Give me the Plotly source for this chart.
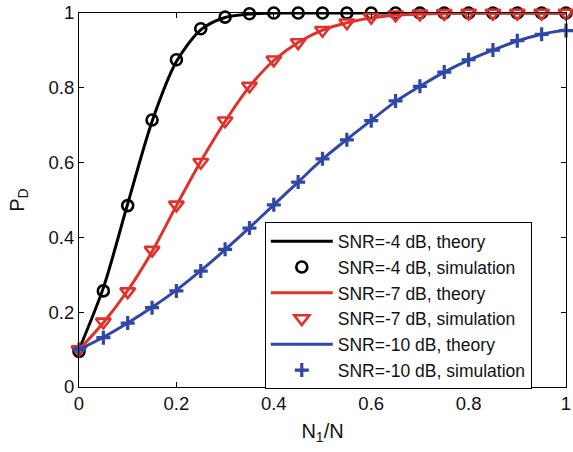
import plotly.graph_objects as go

# Fraction of samples N1/N
n_ratio = [0.0, 0.05, 0.1, 0.15, 0.2, 0.25, 0.3, 0.35, 0.4, 0.45, 0.5,
           0.55, 0.6, 0.65, 0.7, 0.75, 0.8, 0.85, 0.9, 0.95, 1.0]

# Detection probability, theory curves
pd_theory_m4 = [0.10, 0.265, 0.49, 0.71, 0.87, 0.955, 0.988, 0.997, 1.0, 1.0, 1.0,
                1.0, 1.0, 1.0, 1.0, 1.0, 1.0, 1.0, 1.0, 1.0, 1.0]
pd_theory_m7 = [0.10, 0.172, 0.258, 0.362, 0.485, 0.603, 0.71, 0.803, 0.873, 0.921, 0.954,
                0.974, 0.987, 0.994, 0.997, 0.999, 1.0, 1.0, 1.0, 1.0, 1.0]
pd_theory_m10 = [0.10, 0.133, 0.171, 0.213, 0.259, 0.311, 0.367, 0.426, 0.487, 0.548, 0.609,
                 0.662, 0.713, 0.763, 0.804, 0.842, 0.874, 0.901, 0.925, 0.943, 0.955]

# Detection probability, simulation results
pd_sim_m4 = [0.095, 0.257, 0.485, 0.714, 0.875, 0.958, 0.989, 0.998, 1.0, 1.0, 1.0,
             1.0, 1.0, 1.0, 1.0, 1.0, 1.0, 1.0, 1.0, 1.0, 1.0]
pd_sim_m7 = [0.10, 0.174, 0.255, 0.366, 0.487, 0.601, 0.712, 0.805, 0.875, 0.921, 0.954,
             0.974, 0.989, 0.995, 0.998, 0.999, 1.0, 1.0, 1.0, 1.0, 1.0]
pd_sim_m10 = [0.10, 0.132, 0.171, 0.212, 0.257, 0.31, 0.368, 0.425, 0.487, 0.548, 0.61,
              0.661, 0.712, 0.765, 0.804, 0.842, 0.875, 0.901, 0.926, 0.943, 0.953]

x_ticks = [0, 0.2, 0.4, 0.6, 0.8, 1]
x_tick_text = ["0", "0.2", "0.4", "0.6", "0.8", "1"]
y_ticks = [0, 0.2, 0.4, 0.6, 0.8, 1]
y_tick_text = ["0", "0.2", "0.4", "0.6", "0.8", "1"]

BLACK = "#000000"
RED = "#e2302a"
BLUE = "#2f47a6"
FONT = "Liberation Sans, Arial, Helvetica, sans-serif"
TEXT = "#111111"

fig = go.Figure()

series = [
    ("-4", pd_theory_m4, pd_sim_m4, BLACK,
     dict(symbol="circle-open", size=11, color=BLACK, line=dict(width=2.6, color=BLACK))),
    ("-7", pd_theory_m7, pd_sim_m7, RED,
     dict(symbol="triangle-down-open", size=13, color=RED, line=dict(width=2.6, color=RED))),
    ("-10", pd_theory_m10, pd_sim_m10, BLUE,
     dict(symbol="cross-thin-open", size=10, color=BLUE, line=dict(width=3.2, color=BLUE))),
]

for snr, theory, sim, color, marker in series:
    fig.add_trace(go.Scatter(
        x=n_ratio, y=theory, mode="lines",
        line=dict(color=color, width=3, shape="spline", smoothing=0.8),
        name=f"SNR={snr} dB, theory",
        cliponaxis=False,
    ))
    fig.add_trace(go.Scatter(
        x=n_ratio, y=sim, mode="markers",
        marker=marker,
        name=f"SNR={snr} dB, simulation",
        cliponaxis=False,
    ))

axis_common = dict(
    showgrid=False, zeroline=False,
    showline=True, linecolor="black", linewidth=1, mirror="ticks",
    ticks="inside", ticklen=5, tickwidth=1, tickcolor="black",
    tickfont=dict(family=FONT, size=18.5, color=TEXT),
    ticklabeloverflow="allow",
)

fig.update_layout(
    width=573, height=452,
    margin=dict(l=79, r=2, t=9, b=65),
    paper_bgcolor="white", plot_bgcolor="white",
    font=dict(family=FONT, size=17, color=TEXT),
    xaxis=dict(range=[0, 1], tickvals=x_ticks, ticktext=x_tick_text,
               title=dict(text="N<sub>1</sub>/N", font=dict(family=FONT, size=20, color=TEXT),
                          standoff=10),
               **axis_common),
    yaxis=dict(range=[0, 1], tickvals=y_ticks, ticktext=y_tick_text,
               title=dict(text="P<sub>D</sub>", font=dict(family=FONT, size=20, color=TEXT),
                          standoff=18),
               **axis_common),
    legend=dict(
        x=0.3815, y=0.44, xanchor="left", yanchor="top",
        bgcolor="white", bordercolor="black", borderwidth=1,
        font=dict(family=FONT, size=17.5, color=TEXT),
        itemwidth=62, tracegroupgap=0,
    ),
    showlegend=True,
)

fig.write_html("out.html")
